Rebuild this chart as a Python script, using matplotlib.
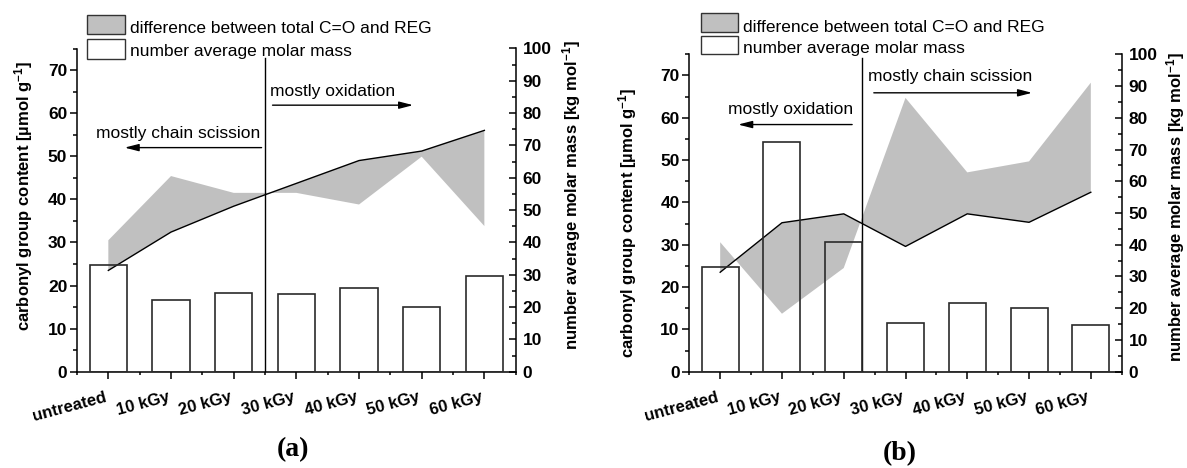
import matplotlib
matplotlib.use("Agg")
import matplotlib.pyplot as plt
from matplotlib.patches import Rectangle
from matplotlib.ticker import MultipleLocator, AutoMinorLocator
import numpy as np

plt.rcParams['font.family'] = ['Liberation Sans', 'DejaVu Sans']
plt.rcParams['mathtext.fontset'] = 'custom'
plt.rcParams['mathtext.rm'] = 'Liberation Sans'
plt.rcParams['mathtext.bf'] = 'Liberation Sans:bold'
plt.rcParams['mathtext.it'] = 'Liberation Sans:italic'

# ---------------- data ----------------
categories = ['untreated', '10 kGy', '20 kGy', '30 kGy', '40 kGy', '50 kGy', '60 kGy']

# panel (a)
a_reg = [23.5, 32.4, 38.4, 43.7, 49.0, 51.2, 56.0]      # black line (left axis)
a_total = [30.5, 45.4, 41.5, 41.5, 38.8, 49.9, 33.8]    # other edge of grey area
a_mn = [32.9, 22.3, 24.2, 24.0, 25.8, 20.0, 29.7]       # bars, kg/mol (right axis)
a_divider = 2.5

# panel (b)
b_reg = [23.5, 35.2, 37.3, 29.6, 37.3, 35.3, 42.4]
b_total = [30.6, 13.7, 24.5, 64.7, 47.1, 49.7, 68.3]
b_mn = [33.0, 72.4, 41.0, 15.5, 21.5, 20.2, 14.7]
b_divider = 2.3

legend_labels = ['difference between total C=O and REG', 'number average molar mass']
left_label = 'carbonyl group content [µmol g$^{\\mathbf{-1}}$]'
right_label = 'number average molar mass [kg mol$^{\\mathbf{-1}}$]'

GREY = '#c0c0c0'
W, H = 1187, 468

fig = plt.figure(figsize=(W / 100, H / 100), dpi=100)


def px_axes(x0, x1, ytop, ybot):
    return fig.add_axes([x0 / W, 1 - ybot / H, (x1 - x0) / W, (ybot - ytop) / H])


def draw_panel(ax, reg, total, mn, divider, div_top, notes):
    x = np.arange(len(categories))
    ax.fill_between(x, reg, total, facecolor=GREY, edgecolor='none', lw=0, zorder=1)
    ax.plot(x, reg, color='black', lw=1.0, zorder=3)
    ax.plot([divider, divider], [0, div_top], color='black', lw=1.0, zorder=3)
    ax.set_xlim(-0.5, len(categories) - 0.5)
    ax.set_ylim(0, 75)
    ax.set_xticks(x)
    ax.set_xticklabels(categories, rotation=15, ha='right', fontweight='bold', fontsize=12)
    ax.xaxis.set_minor_locator(AutoMinorLocator(2))
    ax.yaxis.set_major_locator(MultipleLocator(10))
    ax.yaxis.set_minor_locator(MultipleLocator(5))
    ax.set_yticks(np.arange(0, 71, 10))
    for lab in ax.get_yticklabels():
        lab.set_fontweight('bold')
        lab.set_fontsize(12.5)
    ax.tick_params(axis='x', which='major', direction='out', length=5, width=1.1, pad=8)
    ax.tick_params(axis='x', which='minor', direction='out', length=2.5, width=1.1)
    ax.tick_params(axis='y', which='major', direction='out', length=5, width=1.1, pad=2)
    ax.tick_params(axis='y', which='minor', direction='out', length=3, width=1.1)
    ax.spines['top'].set_visible(False)
    ax.spines['right'].set_visible(False)
    for s in ('left', 'bottom'):
        ax.spines[s].set_linewidth(1.1)

    ax2 = ax.twinx()
    ax2.bar(x, mn, width=0.6, facecolor='none', edgecolor='#2a2a2a', lw=1.2, zorder=4)
    ax2.set_ylim(0, 100)
    ax2.set_yticks(np.arange(0, 101, 10))
    ax2.yaxis.set_minor_locator(MultipleLocator(5))
    for lab in ax2.get_yticklabels():
        lab.set_fontweight('bold')
        lab.set_fontsize(12.5)
    ax2.tick_params(axis='y', which='major', direction='in', length=5, width=1.1, pad=5)
    ax2.tick_params(axis='y', which='minor', direction='in', length=2.6, width=1.1)
    ax2.spines['top'].set_visible(False)
    ax2.spines['left'].set_visible(False)
    ax2.spines['bottom'].set_visible(False)
    ax2.spines['right'].set_linewidth(1.1)

    for (txt, tx, ty, tail, head, ay) in notes:
        ax.text(tx, ty, txt, ha='center', va='center', fontsize=12.5, zorder=5)
        ax.annotate('', xy=(head, ay), xytext=(tail, ay),
                    arrowprops=dict(arrowstyle='-|>,head_length=0.7,head_width=0.18',
                                    color='black', lw=1.0, mutation_scale=12,
                                    shrinkA=0, shrinkB=0), zorder=5)


axA = px_axes(77, 515.7, 48.5, 371.7)
draw_panel(axA, a_reg, a_total, a_mn, a_divider, 72.9,
           [('mostly chain scission', 1.113, 55.3, 2.445, 0.26, 52.0),
            ('mostly oxidation', 3.585, 65.0, 2.62, 4.864, 61.85)])

axB = px_axes(689.3, 1121.7, 54.3, 371.7)
draw_panel(axB, b_reg, b_total, b_mn, b_divider, 74.2,
           [('mostly oxidation', 1.141, 62.0, 2.136, 0.291, 58.4),
            ('mostly chain scission', 3.73, 69.7, 2.487, 5.049, 65.9)])

# overlay in pixel coordinates for legend, axis titles and panel letters
ov = fig.add_axes([0, 0, 1, 1], zorder=10)
ov.set_xlim(0, W)
ov.set_ylim(H, 0)
ov.axis('off')
ov.patch.set_alpha(0)


def legend(x0, x1, y1a, y1b, y2a, y2b, tx, b1, b2):
    ov.add_patch(Rectangle((x0, y1a), x1 - x0, y1b - y1a, facecolor=GREY,
                           edgecolor='#333333', lw=1.0))
    ov.add_patch(Rectangle((x0, y2a), x1 - x0, y2b - y2a, facecolor='white',
                           edgecolor='#333333', lw=1.0))
    ov.text(tx, b1, legend_labels[0], ha='left', va='baseline', fontsize=12.5)
    ov.text(tx, b2, legend_labels[1], ha='left', va='baseline', fontsize=12.5)


legend(86.7, 125, 15, 34.3, 39.3, 59, 130, 33.3, 56)
legend(701, 738.3, 13.3, 32.3, 35.7, 54, 743.3, 31.7, 53.3)

ov.text(23.5, 196, left_label, rotation=90, ha='center', va='center',
        fontsize=12, fontweight='bold')
ov.text(572, 195, right_label, rotation=90, ha='center', va='center',
        fontsize=12, fontweight='bold')
ov.text(628, 223, left_label, rotation=90, ha='center', va='center',
        fontsize=12, fontweight='bold')
ov.text(1176, 207, right_label, rotation=90, ha='center', va='center',
        fontsize=12, fontweight='bold')

ov.text(292.5, 450, '(a)', ha='center', va='center', fontsize=20,
        fontweight='bold', family=['Liberation Serif', 'DejaVu Serif'])
ov.text(900, 454, '(b)', ha='center', va='center', fontsize=20,
        fontweight='bold', family=['Liberation Serif', 'DejaVu Serif'])

fig.savefig('out.png', dpi=100)
